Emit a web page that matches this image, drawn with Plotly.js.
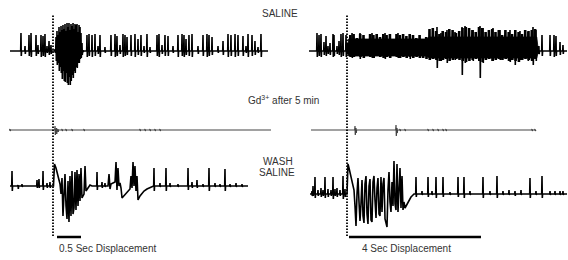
<!DOCTYPE html>
<html>
<head>
<meta charset="utf-8">
<script src="https://cdn.plot.ly/plotly-3.0.1.min.js"></script>
<style>html,body{margin:0;padding:0;background:#fff;}#chart{width:568px;height:260px;}</style>
</head>
<body>
<div id="chart"></div>
<script>
// ---------------- DATA (time in s relative to displacement onset, amplitude in arbitrary units) ----------------
// Row 1: SALINE, 0.5 s displacement
const sal05_range = [-0.896, 4.479];
const sal05_spk_t = [-0.667,-0.583,-0.5,-0.458,-0.354,-0.313,-0.25,-0.208,-0.167,-0.125,-0.083,-0.042,
  0.708,0.75,0.813,0.875,0.938,0.979, 1.083,1.208,1.292,1.333,1.396,1.458,1.5,1.542,
  1.625,1.708,1.771,1.833,1.896,1.958, 2.021,2.167,2.208,2.271,2.333,2.396,2.5,
  2.604,2.688,2.729,2.771,2.833,2.896, 3.021,3.125,3.208,3.25,3.313,3.438,
  3.542,3.646,3.708,3.792,3.854,3.958, 4.021,4.063,4.146,4.208,4.271,4.333];
const sal05_spk_up = [18,5,16,18,16,6,16,15,17,5,10,6,
  16,17,16,17,5,16, 4,16,17,15,6,17,16,14, 16,17,12,16,5,17, 4,16,17,6,16,15,5,
  16,17,16,12,16,17, 5,16,17,16,14,5, 10,17,16,17,16,15, 5,17,16,10,4,17];
const sal05_spk_dn = [-5,-3,-5,-6,-5,-3,-6,-5,-6,-2,-4,-3,
  -6,-5,-6,-5,-3,-6, -2,-5,-6,-5,-3,-6,-5,-4, -5,-6,-4,-5,-2,-6, -2,-5,-6,-3,-5,-5,-2,
  -6,-5,-6,-4,-5,-6, -3,-5,-6,-5,-4,-2, -4,-6,-5,-6,-5,-5, -2,-6,-5,-4,-2,-6];
const sal05_burst_t = [0.042,0.063,0.083,0.104,0.125,0.146,0.167,0.188,0.208,0.229,0.25,0.271,0.292,0.313,0.333,
  0.354,0.375,0.396,0.417,0.438,0.458,0.479,0.5,0.521,0.542,0.563,0.583,0.604,0.625];
const sal05_burst_hi = [2,14,20,16,24,19,25,21,26,22,27,20,28,24,28,21,27,25,28,22,27,26,27,19,26,24,18,8,1];
const sal05_burst_lo = [-2,-10,-14,-12,-20,-16,-22,-28,-20,-30,-31,-22,-32,-34,-26,-34,-30,-24,-27,-20,-22,-16,-17,-12,-12,-8,-7,-4,-1];

// Row 1: SALINE, 4 s displacement
const sal4_range = [-1.152, 6.667];
const sal4_spk_t = [-0.909,-0.848,-0.788,-0.697,-0.636,-0.576,-0.515,-0.424,-0.394,-0.303,-0.242,-0.182,-0.121,-0.030,
  0.152,0.394,0.758,1.152,1.545,1.909, 2.727,2.848,3.030,3.273,3.485,3.576,3.818,4.030,4.121,
  4.424,4.636,4.939,5.091,5.242,5.485,5.636,5.727,
  5.909,6.152,6.273,6.333,6.455,6.545];
const sal4_spk_up = [18,16,17,9,15,5,8,17,16,5,10,17,18,16,
  18,18,18,18,18,17, 24,18,21,19,24,25,21,25,23, 23,21,21,20,20,19,24,21,
  16,16,16,15,9,6];
const sal4_spk_dn = [-6,-5,-6,-4,-5,-3,-4,-6,-5,-3,-4,-6,-5,-6,
  -7,-8,-7,-8,-7,-8, -17,-10,-12,-9,-24,-12,-10,-27,-12, -10,-9,-11,-14,-9,-10,-14,-10,
  -5,-5,-6,-5,-4,-3];
const sal4_burst_t = [0.0,0.1,0.2,0.3,0.4,0.5,0.6,0.7,0.8,0.9,1.0,1.1,1.2,1.3,1.4,1.5,1.6,1.7,1.8,1.9,2.0,
  2.1,2.2,2.3,2.4,2.5,2.6,2.7,2.8,2.9,3.0,3.1,3.2,3.3,3.4,3.5,3.6,3.7,3.8,3.9,4.0,
  4.1,4.2,4.3,4.4,4.5,4.6,4.7,4.8,4.9,5.0,5.1,5.2,5.3,5.4,5.5,5.6,5.7,5.8];
const sal4_burst_hi = [8, 16,17,13,17,16,12,17,16,17,14, 17,16,17,12,17,16,17,15,17,16,
  13,16,11,14, 22,23,20,17,20,19, 22,21,18,20,23,24,23,21,19,24,
  23,19,21,22,19,21,16,21,19,17, 21,19,17,21,20,21,22,5];
const sal4_burst_lo = [-3, -6,-6,-5,-6,-7,-5,-6,-7,-5,-6, -7,-6,-7,-5,-6,-7,-6,-7,-6,-7,
  -6,-7,-7,-8,-9,-8,-9,-10,-9,-8, -10,-9,-8,-9,-10,-11,-10,-9,-8,-10,
  -11,-9,-8,-10,-9,-8,-9,-8,-10,-9, -10,-11,-9,-8,-9,-10,-8,-3];
// solid core of the 4 s burst
const sal4_core_t = [0.0, 0.05, 2.4, 2.5, 5.75, 5.8];
const sal4_core_hi = [0, 12, 12, 14, 14, 0];
const sal4_core_lo = [0, -5, -5, -7, -7, 0];

// Row 2: Gd3+ after 5 min
const gd05_range = [-0.917, 4.542];
const gd05_spk_t = [-0.896,0.042,0.073,0.104,0.188,0.271,0.396,0.646,1.813,1.917,2.021,2.125,2.229];
const gd05_spk_up = [1,4,2,1,1,1,1,1,1,1,1,1,1];
const gd05_spk_dn = [-1,-5,-4,-2,-1,-1,-1,-1,-1,-1,-1,-1,-1];
const gd4_range = [-1.091, 5.727];
const gd4_spk_t = [0.242,0.273,1.485,1.515,1.606,1.758,2.455,2.606,2.758,2.909,3.0,5.606,5.697];
const gd4_spk_up = [4,2,5,2,1,1,1,1,1,1,1,1,1];
const gd4_spk_dn = [-5,-3,-6,-3,-1,-1,-1,-1,-1,-1,-1,-1,-1];

// Row 3: WASH SALINE
const wash05_range = [-0.896, 4.063];
const wash05_spk_t = [-0.854,-0.729,-0.646,-0.333,-0.292,-0.208,-0.125,-0.063, 0.917,1.021,1.083,
  2.104,2.229,2.354,2.438,2.604,2.813,2.896,3.0,3.125,3.25,3.375,3.479,3.583,3.688,3.813,3.938];
const wash05_spk_up = [15,1,2,6,7,15,3,4, 14,4,3, 18,3,18,3,2,18,4,6,2,18,3,2,17,2,3,2];
const wash05_spk_dn = [-5,-3,-1,-2,-2,-4,-2,-2, -4,-2,-1, -5,-1,-5,-1,-1,-4,-2,-2,-1,-5,-1,-1,-5,-1,-1,-1];
const wash05_wave_t = [0.010,0.031,0.0625,0.104,0.146,0.167,0.1875,0.208,0.229,0.25,
  0.271,0.292,0.3125,0.333,0.354,0.375,0.396,0.417,0.4375,0.458,
  0.479,0.5,0.521,0.542,0.5625,0.583,0.604,0.646,0.667,0.6875, 0.729,0.771,0.8125,
  1.146,1.167,1.188,1.208,1.25,1.292,1.313,1.333,1.354,1.375,
  1.396,1.417,1.438,1.479,1.521,1.5625,1.604,1.625,1.646,1.667,
  1.6875,1.708,1.729,1.75,1.771,1.8125,1.854,1.896,1.958,2.021, 2.0625];
const wash05_wave_v = [0,22,18,10,2,-8,8,-30,-10,12,
  -20,-33,5,-36,10,-30,15,-28,-22,14,
  -24,16,-20,12,-15,18,-12,-8,20,-5, -2,1,0,
  0,12,-3,2,3,4,24,-4,18,0,
  3,-2,-12,-10,-7,-5,-3,10,-2,24,
  0,20,-5,10,-14,-10,-7,-5,-3,-1.5, -0.5];

const wash4_range = [-1.121, 6.667];
const wash4_spk_t = [-1.061,-1.030,-0.970,-0.879,-0.788,-0.727,-0.667,-0.576,-0.485,-0.424,-0.364,-0.303,-0.212,-0.121,-0.061,
  2.091,2.273,2.455,2.576,2.697,2.909,3.121,3.364,3.545,3.727,4.121,4.333,4.545,4.727,4.909,5.091,5.273,5.545,5.727,5.909,6.152,6.303,6.455,6.545];
const wash4_spk_up = [3,8,17,4,6,4,17,5,4,17,5,6,4,18,5,
  17,3,17,3,17,17,2,17,17,3,17,3,18,3,4,3,4,16,3,18,3,3,3,3];
const wash4_spk_dn = [-2,-2,-4,-2,-3,-2,-4,-3,-2,-5,-2,-3,-2,-5,-3,
  -3,-1,-3,-1,-4,-3,-1,-3,-4,-1,-4,-1,-4,-1,-1,-2,-1,-4,-1,-4,-1,-1,-1,-1];
const wash4_wave_t = [0.0,0.030,0.061,0.091,0.121,0.152,0.182,0.212,0.242,0.273,
  0.303,0.333,0.364,0.394,0.424,0.455,0.485,0.515,0.545,0.576,
  0.606,0.636,0.667,0.697,0.727,0.758,0.788,0.818,0.848,0.879,
  0.909,0.939,0.970,1.0,1.030,1.061,1.091,1.121,1.152,1.182,
  1.212,1.242,1.273,1.303,1.333,1.364,1.394,1.424,1.455,1.485,
  1.515,1.545,1.576,1.606,1.636,1.667,1.697,1.727,1.758,1.788,
  1.818,1.848,1.879,1.909,1.939,1.970,2.0,2.030];
const wash4_wave_v = [0,30,26,22,17,12,8,4,-12,-32,
  0,16,-8,-27,-10,14,-22,-29,10,18,
  -20,-30,8,15,-26,-28,12,18,-6,-24,
  6,16,-20,-22,17,-18,10,16,-25,-30,
  -33,4,22,-8,-18,12,-12,33,-10,-16,
  30,-18,10,26,-14,18,-16,-8,-14,-12,
  -10,-8,-6,-4.5,-3,-2,-1,0];

// Stimulus onsets and displacement bars [start, duration] in s
const stim_t = [0, 0];
const bar05 = [0.083, 0.5];
const bar4 = [0.06, 4.0];

const labels = {
  saline: 'SALINE',
  gd: 'Gd<sup>3+</sup> after 5 min',
  wash1: 'WASH',
  wash2: 'SALINE',
  bar05: '0.5 Sec Displacement',
  bar4: '4 Sec Displacement'
};

// ---------------- BUILD ----------------
function buildTrace(range, st, su, sd, dt, wt, wv) {
  const pts = [[range[0], 0], [range[1], 0]];
  st.forEach((t, i) => {
    pts.push([t - dt, 0], [t, su[i] ?? 0], [t + dt, sd[i] ?? 0], [t + 2 * dt, 0]);
  });
  if (wt) wt.forEach((t, i) => pts.push([t, wv[i] ?? 0]));
  pts.sort((a, b) => a[0] - b[0]);
  return {x: pts.map(p => p[0]), y: pts.map(p => p[1])};
}
function band(t, hi, lo) {
  return {x: t.concat(t.slice().reverse()), y: hi.concat(lo.slice().reverse())};
}

const W = 568, H = 260;
const pxL = 48, pxR = 33;   // px per second, left / right panels
const dL = 0.3 / pxL, dR = 0.3 / pxR;

const traces = [];
function line(xy, xa, ya, color, width) {
  traces.push({type: 'scatter', mode: 'lines', x: xy.x, y: xy.y, xaxis: xa, yaxis: ya,
    line: {color: color, width: width, shape: 'linear'}, hoverinfo: 'skip'});
}
function fillBand(xy, xa, ya) {
  traces.push({type: 'scatter', mode: 'lines', x: xy.x, y: xy.y, xaxis: xa, yaxis: ya, fill: 'toself',
    fillcolor: '#000', line: {color: '#000', width: 0.8}, hoverinfo: 'skip'});
}

// Row 1
line(buildTrace(sal05_range, sal05_spk_t.concat(sal05_burst_t), sal05_spk_up.concat(sal05_burst_hi),
  sal05_spk_dn.concat(sal05_burst_lo), dL), 'x', 'y', '#000', 1.6);
line(buildTrace(sal4_range, sal4_spk_t, sal4_spk_up, sal4_spk_dn, dR), 'x2', 'y', '#000', 1.6);
fillBand(band(sal4_core_t, sal4_core_hi, sal4_core_lo), 'x2', 'y');
line(buildTrace([sal4_burst_t[0], sal4_burst_t[sal4_burst_t.length - 1]], sal4_burst_t, sal4_burst_hi, sal4_burst_lo, dR),
  'x2', 'y', '#000', 2.6);

// Row 2
line(buildTrace(gd05_range, gd05_spk_t, gd05_spk_up, gd05_spk_dn, dL), 'x', 'y2', '#444', 1.2);
line(buildTrace(gd4_range, gd4_spk_t, gd4_spk_up, gd4_spk_dn, dR), 'x2', 'y2', '#444', 1.2);

// Row 3
line(buildTrace(wash05_range, wash05_spk_t, wash05_spk_up, wash05_spk_dn, dL, wash05_wave_t, wash05_wave_v), 'x', 'y3', '#000', 1.6);
line(buildTrace(wash4_range, wash4_spk_t, wash4_spk_up, wash4_spk_dn, dR, wash4_wave_t, wash4_wave_v), 'x2', 'y4', '#000', 1.6);

// ---------------- LAYOUT ----------------
const py = v => 1 - v / H;   // pixel row -> paper
const ax = {visible: false, fixedrange: true, showgrid: false, zeroline: false};
const layout = {
  width: W, height: H, margin: {l: 0, r: 0, t: 0, b: 0},
  paper_bgcolor: '#fff', plot_bgcolor: 'rgba(0,0,0,0)', showlegend: false,
  font: {family: 'Liberation Sans, Arial, sans-serif', size: 10, color: '#333'},
  xaxis:  Object.assign({}, ax, {domain: [0, 0.5], range: [-53 / pxL, 231 / pxL]}),
  xaxis2: Object.assign({}, ax, {domain: [0.5, 1], range: [-63 / pxR, 221 / pxR]}),
  yaxis:  Object.assign({}, ax, {domain: [py(100), 1], range: [-49, 51]}),
  yaxis2: Object.assign({}, ax, {domain: [py(160), py(100)], range: [-30, 30]}),
  yaxis3: Object.assign({}, ax, {domain: [py(240), py(140)], range: [-54, 46]}),
  yaxis4: Object.assign({}, ax, {domain: [py(240), py(140)], range: [-46, 54]}),
  shapes: [
    {type: 'line', xref: 'x', yref: 'paper', x0: stim_t[0], x1: stim_t[0], y0: py(236), y1: py(15),
     line: {color: '#000', width: 1.8, dash: '1.6px,1.4px'}},
    {type: 'line', xref: 'x2', yref: 'paper', x0: stim_t[1], x1: stim_t[1], y0: py(236), y1: py(15),
     line: {color: '#000', width: 1.8, dash: '1.6px,1.4px'}},
    {type: 'line', xref: 'x', yref: 'paper', x0: bar05[0], x1: bar05[0] + bar05[1], y0: py(237), y1: py(237),
     line: {color: '#000', width: 2.5}},
    {type: 'line', xref: 'x2', yref: 'paper', x0: bar4[0], x1: bar4[0] + bar4[1], y0: py(237), y1: py(237),
     line: {color: '#000', width: 2.5}}
  ],
  annotations: [
    {text: labels.saline, x: 280 / W, y: py(13), xref: 'paper', yref: 'paper', showarrow: false, xanchor: 'center', yanchor: 'middle', font: {size: 10}},
    {text: labels.gd, x: 283 / W, y: py(100), xref: 'paper', yref: 'paper', showarrow: false, xanchor: 'center', yanchor: 'middle', font: {size: 10}},
    {text: labels.wash1, x: 278 / W, y: py(161), xref: 'paper', yref: 'paper', showarrow: false, xanchor: 'center', yanchor: 'middle', font: {size: 10}},
    {text: labels.wash2, x: 277 / W, y: py(172), xref: 'paper', yref: 'paper', showarrow: false, xanchor: 'center', yanchor: 'middle', font: {size: 10}},
    {text: labels.bar05, x: 107 / W, y: py(248), xref: 'paper', yref: 'paper', showarrow: false, xanchor: 'center', yanchor: 'middle', font: {size: 10}},
    {text: labels.bar4, x: 406 / W, y: py(248), xref: 'paper', yref: 'paper', showarrow: false, xanchor: 'center', yanchor: 'middle', font: {size: 10}}
  ]
};

Plotly.newPlot('chart', traces, layout, {staticPlot: true, displayModeBar: false});
</script>
</body>
</html>
